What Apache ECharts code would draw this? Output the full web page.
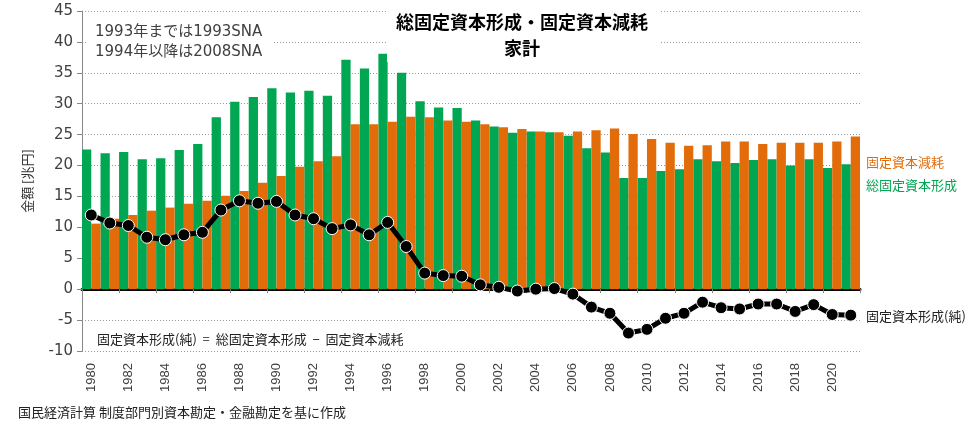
<!DOCTYPE html>
<html><head><meta charset="utf-8">
<script src="https://cdn.jsdelivr.net/npm/echarts@6/dist/echarts.min.js"></script>
<style>html,body{margin:0;padding:0;background:#fff}#c{width:977px;height:424px}</style>
</head><body><div id="c"></div>
<script>
const years = ["1980","1981","1982","1983","1984","1985","1986","1987","1988","1989","1990","1991","1992","1993","1994","1995","1996","1997","1998","1999","2000","2001","2002","2003","2004","2005","2006","2007","2008","2009","2010","2011","2012","2013","2014","2015","2016","2017","2018","2019","2020","2021"];
const grossFCF = [22.6,22.0,22.2,21.0,21.2,22.5,23.5,27.8,30.3,31.1,32.5,31.8,32.1,31.3,37.1,35.7,38.1,35.0,30.4,29.4,29.3,27.3,26.3,25.3,25.5,25.4,24.8,22.8,22.1,18.0,18.0,19.1,19.4,21.0,20.7,20.4,20.9,21.0,20.0,21.0,19.6,20.2];
const depreciation = [10.6,11.4,12.0,12.7,13.2,13.8,14.3,15.1,15.9,17.2,18.3,19.8,20.7,21.5,26.7,26.7,27.1,27.9,27.8,27.3,27.1,26.7,26.2,25.9,25.5,25.4,25.5,25.7,26.0,25.1,24.3,23.7,23.2,23.3,23.9,23.9,23.5,23.7,23.7,23.7,23.9,24.7];
const netFCF = [12.0,10.7,10.3,8.4,8.0,8.8,9.2,12.8,14.3,13.9,14.2,12.0,11.4,9.8,10.4,8.8,10.8,6.9,2.6,2.2,2.1,0.7,0.3,-0.3,0.0,0.1,-0.8,-2.9,-3.9,-7.1,-6.5,-4.7,-3.9,-2.1,-3.0,-3.2,-2.4,-2.4,-3.6,-2.5,-4.1,-4.2];
const yTicks = {min:-10, max:45, interval:5};

const GREEN = '#00a651', ORANGE = '#e36c0a';
const JP = '"Noto Sans CJK JP", "Noto Sans", sans-serif';
const MIX = '"DejaVu Sans", "Noto Sans CJK JP", sans-serif';
const chart = echarts.init(document.getElementById('c'), null, {renderer:'canvas'});
chart.setOption({
  animation:false,
  backgroundColor:'#fff',
  grid:{left:82, right:117, top:11, bottom:73},
  xAxis:[{
    type:'category', data:years, position:'bottom',
    axisLine:{show:false, onZero:false}, axisTick:{show:false},
    axisLabel:{interval:1, rotate:90, color:'#404040', fontFamily:'Liberation Sans, Arial', fontSize:13, margin:12}
  },{
    type:'category', data:years, position:'bottom',
    axisLine:{show:true, onZero:true, lineStyle:{color:'#000', width:3}},
    axisTick:{show:true, length:4, lineStyle:{color:'#888'}},
    axisLabel:{show:false}
  }],
  yAxis:{
    type:'value', min:yTicks.min, max:yTicks.max, interval:yTicks.interval,
    axisLine:{show:true, lineStyle:{color:'#888', width:1}},
    axisTick:{show:true, length:5, lineStyle:{color:'#888'}},
    axisLabel:{color:'#404040', fontFamily:'DejaVu Sans', fontSize:15, margin:9},
    splitLine:{show:true, lineStyle:{color:'#999', type:[1,2], width:1}},
    name:'金額 [兆円]', nameLocation:'middle', nameGap:48, nameRotate:90,
    nameTextStyle:{color:'#333', fontFamily:JP, fontSize:13}
  },
  series:[
    {name:'総固定資本形成', type:'bar', data:grossFCF, itemStyle:{color:GREEN}, barGap:'0%', barCategoryGap:'0%'},
    {name:'固定資本減耗', type:'bar', data:depreciation, itemStyle:{color:ORANGE}, barGap:'0%', barCategoryGap:'0%'},
    {name:'固定資本形成(純)', type:'line', data:netFCF, z:5, symbol:'circle', symbolSize:12,
     lineStyle:{color:'#000', width:5}, itemStyle:{color:'#000', borderColor:'#fff', borderWidth:1}}
  ],
  graphic:[
    {type:'rect', z:10, shape:{x:387, y:0, width:272, height:62}, style:{fill:'#fff'}},
    {type:'text', z:11, style:{text:'総固定資本形成・固定資本減耗', x:522, y:22, textAlign:'center', textVerticalAlign:'middle', font:'bold 18px '+JP, fill:'#000'}},
    {type:'text', z:11, style:{text:'家計', x:522, y:48, textAlign:'center', textVerticalAlign:'middle', font:'bold 18px '+JP, fill:'#000'}},
    {type:'rect', z:10, shape:{x:86, y:18, width:187, height:46}, style:{fill:'#fff'}},
    {type:'text', z:11, style:{text:'1993年までは1993SNA', x:95, y:32, textVerticalAlign:'middle', font:'15px '+MIX, fill:'#404040'}},
    {type:'text', z:11, style:{text:'1994年以降は2008SNA', x:95, y:52, textVerticalAlign:'middle', font:'15px '+MIX, fill:'#404040'}},
    {type:'text', z:11, style:{text:'固定資本形成(純)  =  総固定資本形成  −  固定資本減耗', x:97, y:339, textVerticalAlign:'middle', font:'13px '+JP, fill:'#222'}},
    {type:'text', z:11, style:{text:'固定資本減耗', x:866, y:162, textVerticalAlign:'middle', font:'13px '+JP, fill:ORANGE}},
    {type:'text', z:11, style:{text:'総固定資本形成', x:866, y:185, textVerticalAlign:'middle', font:'13px '+JP, fill:GREEN}},
    {type:'text', z:11, style:{text:'固定資本形成(純)', x:866, y:316, textVerticalAlign:'middle', font:'13px '+JP, fill:'#222'}},
    {type:'text', z:11, style:{text:'国民経済計算 制度部門別資本勘定・金融勘定を基に作成', x:18, y:412, textVerticalAlign:'middle', font:'13px '+JP, fill:'#222'}}
  ]
});
</script></body></html>
